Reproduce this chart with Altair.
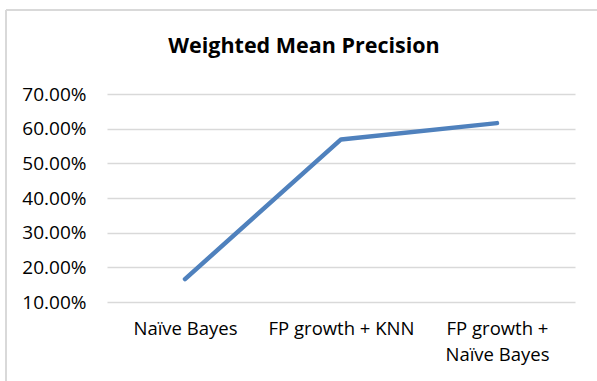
import altair as alt
import pandas as pd

methods = ["Naïve Bayes", "FP growth + KNN", "FP growth + Naïve Bayes"]
precision = [0.166, 0.569, 0.616]
y_ticks = [0.1, 0.2, 0.3, 0.4, 0.5, 0.6, 0.7]
title_text = "Weighted Mean Precision"

df = pd.DataFrame({"method": methods, "precision": precision})

FONT = "Open Sans"

line = alt.Chart(df).mark_line(
    color="#4F81BD", strokeWidth=4.5, strokeCap="round", strokeJoin="round"
).encode(
    x=alt.X(
        "method:N",
        sort=methods,
        title=None,
        scale=alt.Scale(paddingInner=0, paddingOuter=0.5),
        axis=alt.Axis(
            labelAngle=0,
            labelFontSize=18.5,
            labelFont=FONT,
            labelColor="#000000",
            labelPadding=17,
            labelLineHeight=26,
            labelBaseline="top",
            ticks=False,
            domain=False,
            grid=False,
            labelExpr="datum.label == 'FP growth + Naïve Bayes' ? ['FP growth +', 'Naïve Bayes'] : datum.label",
        ),
    ),
    y=alt.Y(
        "precision:Q",
        title=None,
        scale=alt.Scale(domain=[0.1, 0.7], nice=False, zero=False),
        axis=alt.Axis(
            values=y_ticks,
            format=".2%",
            labelFontSize=19,
            labelFont=FONT,
            labelColor="#000000",
            labelPadding=21,
            ticks=False,
            domain=False,
            grid=True,
            gridColor="#D9D9D9",
            gridWidth=1.5,
        ),
    ),
)

frame_top = alt.Chart(df).mark_rule(color="#D9D9D9", strokeWidth=1.5).encode(
    x=alt.value(-101), x2=alt.value(500), y=alt.value(-84)
)
frame_left = alt.Chart(df).mark_rule(color="#D9D9D9", strokeWidth=1.5).encode(
    x=alt.value(-101), y=alt.value(-84), y2=alt.value(300)
)
title = alt.Chart(pd.DataFrame({"t": [title_text]})).mark_text(
    font=FONT, fontSize=21.5, fontWeight="bold", color="#000000",
    align="center", baseline="alphabetic",
).encode(x=alt.value(197), y=alt.value(-41), text="t:N")

chart = alt.layer(frame_top, frame_left, line, title).properties(
    width=468,
    height=208,
    padding={"left": 107, "top": 94, "right": 22, "bottom": 79},
    autosize=alt.AutoSizeParams(type="none"),
    background="white",
).configure_view(stroke="transparent", strokeWidth=0)

chart.save("out.html", embed_options={"renderer": "svg", "actions": False})
